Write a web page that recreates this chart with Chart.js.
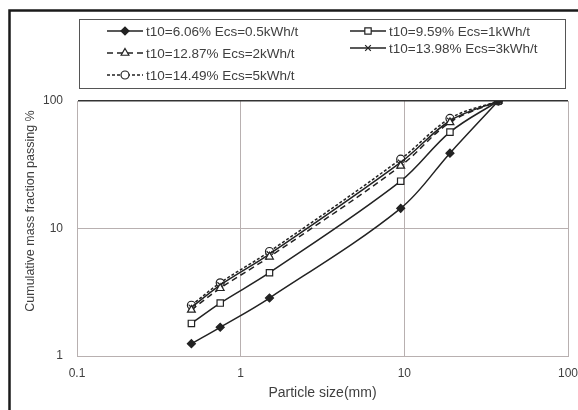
<!DOCTYPE html>
<html>
<head>
<meta charset="utf-8">
<script src="https://cdn.jsdelivr.net/npm/chart.js@4.4.0/dist/chart.umd.min.js"></script>
<style>
  html, body { margin: 0; padding: 0; background: #fff; overflow: hidden; }
  #wrap { width: 578px; height: 410px; position: relative; overflow: hidden; }
  canvas { display: block; }
</style>
</head>
<body>
<div id="wrap"><canvas id="c" width="578" height="410"></canvas></div>
<script>
// Sieve sizes (mm)
const sizes = [0.5, 0.75, 1.5, 9.5, 19, 37.5];

// Series labels
const seriesLabels = [
  't10=6.06% Ecs=0.5kWh/t',
  't10=9.59% Ecs=1kWh/t',
  't10=12.87% Ecs=2kWh/t',
  't10=13.98% Ecs=3kWh/t',
  't10=14.49% Ecs=5kWh/t'
];

// Cumulative mass fraction passing (%)
const pass05 = [1.25, 1.68, 2.85, 14.4, 39, 100];
const pass1  = [1.8, 2.6, 4.5, 23.5, 57, 100];
const pass2  = [2.3, 3.4, 6.0, 31, 68, 100];
const pass3  = [2.4, 3.6, 6.3, 33, 70, 100];
const pass5  = [2.5, 3.75, 6.6, 35, 73, 100];

// Axis tick values
const xTicks = [0.1, 1, 10, 100];
const yTicks = [1, 10, 100];

const ink = '#222';
const textColor = '#3f3f3f';
const gridColor = '#b8b0b0';
const fontFamily = '"Liberation Sans", Arial, sans-serif';

const toPoints = vals => sizes.map((x, i) => ({ x: x, y: vals[i] }));

const styles = [
  { pointStyle: 'rectRot', radius: 4, bg: ink, dash: [] },
  { pointStyle: 'rect', radius: 4.5, bg: '#fff', dash: [] },
  { pointStyle: 'triangle', radius: 4.5, bg: '#fff', dash: [6, 4] },
  { pointStyle: 'crossRot', radius: 4, bg: ink, dash: [] },
  { pointStyle: 'circle', radius: 4, bg: '#fff', dash: [3, 2] }
];
const seriesData = [pass05, pass1, pass2, pass3, pass5];

const datasets = seriesData.map((vals, i) => ({
  label: seriesLabels[i],
  data: toPoints(vals),
  borderColor: ink,
  borderWidth: 1.5,
  borderDash: styles[i].dash,
  tension: 0.35,
  pointStyle: styles[i].pointStyle,
  pointRadius: styles[i].radius,
  pointBackgroundColor: styles[i].bg,
  pointBorderColor: ink,
  pointBorderWidth: 1.2
}));

// Boxed two-column legend above the plot, rotated y title and the outer frame
const decorations = {
  id: 'decorations',
  afterDraw(chart) {
    const ctx = chart.ctx;
    ctx.save();
    // outer frame (top and left edges)
    ctx.strokeStyle = '#1a1a1a';
    ctx.lineWidth = 2.5;
    ctx.beginPath();
    ctx.moveTo(9.5, 410);
    ctx.lineTo(9.5, 10.5);
    ctx.lineTo(578, 10.5);
    ctx.stroke();

    // legend box
    ctx.strokeStyle = '#555';
    ctx.lineWidth = 1;
    ctx.strokeRect(79.5, 19.5, 486, 69);

    const slots = [
      { x: 107, y: 31 }, { x: 350, y: 31 },
      { x: 107, y: 53 }, { x: 350, y: 48 },
      { x: 107, y: 75 }
    ];
    ctx.font = '13.5px ' + fontFamily;
    ctx.textBaseline = 'middle';
    ctx.textAlign = 'left';
    chart.data.datasets.forEach((ds, i) => {
      const s = slots[i];
      ctx.save();
      ctx.strokeStyle = ink;
      ctx.lineWidth = 1.5;
      ctx.setLineDash(ds.borderDash || []);
      ctx.beginPath();
      ctx.moveTo(s.x, s.y);
      ctx.lineTo(s.x + 36, s.y);
      ctx.stroke();
      ctx.setLineDash([]);
      ctx.fillStyle = ds.pointBackgroundColor;
      ctx.strokeStyle = ink;
      ctx.lineWidth = 1.2;
      Chart.helpers.drawPoint(ctx, {
        pointStyle: ds.pointStyle,
        radius: ds.pointRadius,
        borderWidth: 1.2,
        rotation: 0
      }, s.x + 18, s.y);
      ctx.restore();
      ctx.fillStyle = textColor;
      ctx.fillText(ds.label, s.x + 39, s.y + 1);
    });

    // y axis title
    ctx.save();
    ctx.translate(31, 211);
    ctx.rotate(-Math.PI / 2);
    ctx.textAlign = 'center';
    ctx.font = '12.5px ' + fontFamily;
    ctx.fillStyle = textColor;
    ctx.fillText('Cumulative mass fraction passing %', 0, 0);
    ctx.restore();
    ctx.restore();
  }
};

new Chart(document.getElementById('c'), {
  type: 'line',
  data: { datasets: datasets },
  options: {
    responsive: false,
    animation: false,
    events: [],
    layout: { padding: { left: 0, top: 101, right: 10, bottom: 0 } },
    plugins: { legend: { display: false }, tooltip: { enabled: false } },
    scales: {
      x: {
        type: 'logarithmic',
        min: 0.1,
        max: 100,
        afterBuildTicks: s => { s.ticks = xTicks.map(v => ({ value: v })); },
        afterFit: s => { s.height = 54; s.paddingLeft = 0; s.paddingRight = 0; },
        grid: { color: gridColor, lineWidth: 1, drawTicks: false },
        border: { display: true, color: gridColor },
        ticks: {
          padding: 10,
          color: textColor,
          maxRotation: 0,
          autoSkip: false,
          font: { family: fontFamily, size: 12 },
          callback: v => String(v)
        },
        title: {
          display: true,
          text: 'Particle size(mm)',
          color: textColor,
          font: { family: fontFamily, size: 14 },
          padding: { top: 0, bottom: 8 }
        }
      },
      y: {
        type: 'logarithmic',
        min: 1,
        max: 100,
        afterBuildTicks: s => { s.ticks = yTicks.map(v => ({ value: v })); },
        afterFit: s => { s.width = 77; s.paddingTop = 0; s.paddingBottom = 0; },
        grid: {
          color: ctx => (ctx.tick && ctx.tick.value === 100) ? '#333' : gridColor,
          lineWidth: ctx => (ctx.tick && ctx.tick.value === 100) ? 1.5 : 1,
          drawTicks: false
        },
        border: { display: true, color: gridColor },
        ticks: {
          padding: 14,
          color: textColor,
          autoSkip: false,
          font: { family: fontFamily, size: 12 },
          callback: v => String(v)
        }
      }
    }
  },
  plugins: [decorations]
});
</script>
</body>
</html>
